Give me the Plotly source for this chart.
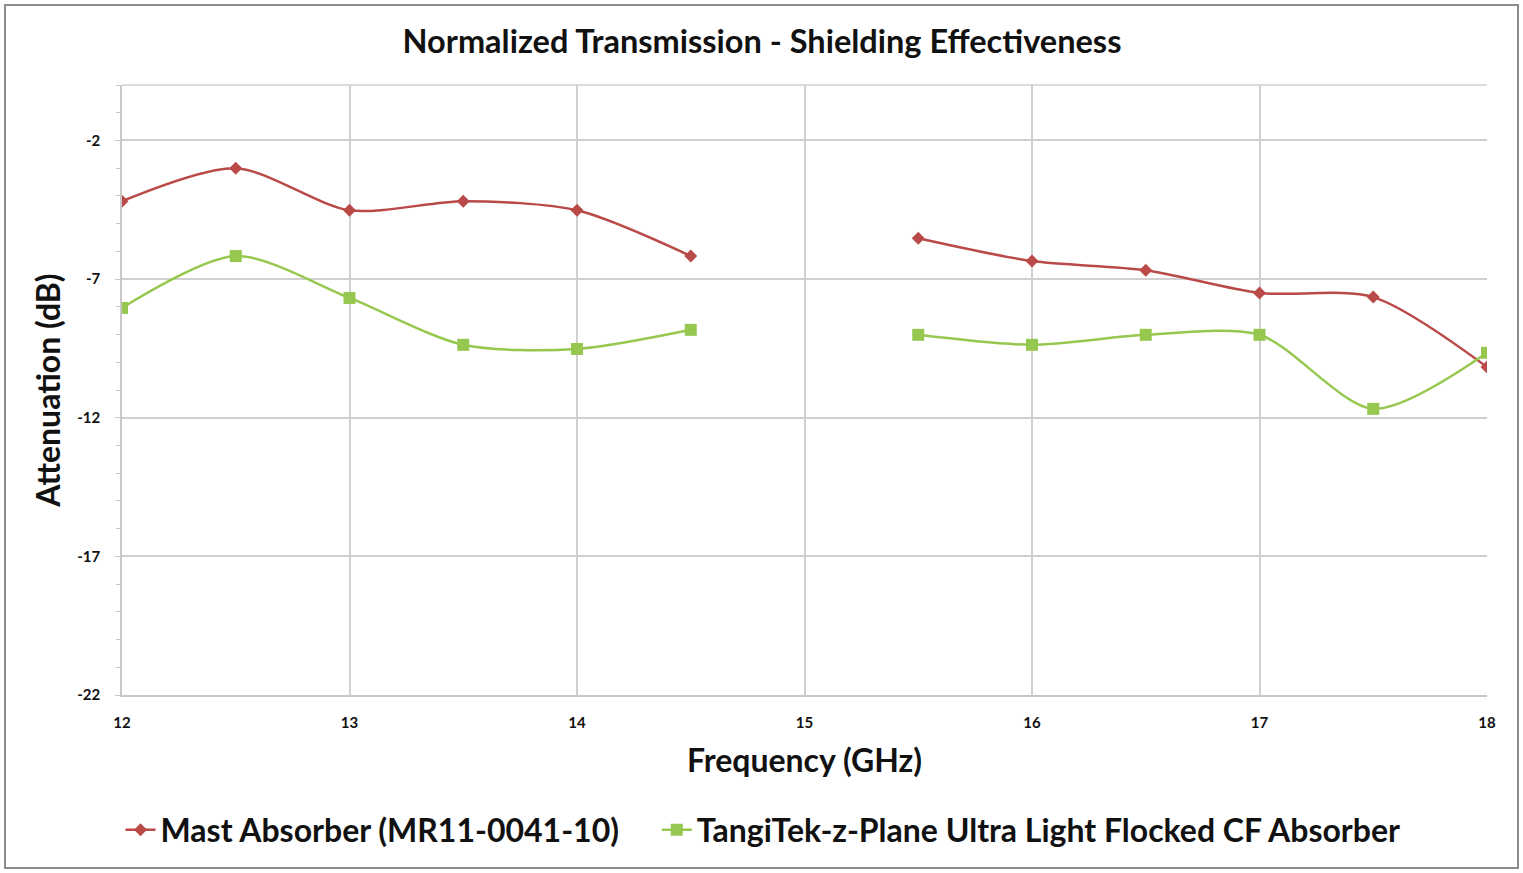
import plotly.graph_objects as go

freq = [12, 12.5, 13, 13.5, 14, 14.5, 15, 15.5, 16, 16.5, 17, 17.5, 18]
mast = [-4.19, -3.0, -4.52, -4.19, -4.52, -6.17, None, -5.53, -6.35, -6.68, -7.5, -7.65, -10.17]
tangi = [-8.04, -6.17, -7.68, -9.37, -9.52, -8.83, None, -9.01, -9.37, -9.01, -9.01, -11.68, -9.66]
x_ticks = [12, 13, 14, 15, 16, 17, 18]
y_ticks = [-22, -17, -12, -7, -2]

red = "#b94a48"
green = "#96c84f"
font_family = "Lato, 'Open Sans', sans-serif"
nb = "\u00a0"

fig = go.Figure()
fig.add_trace(go.Scatter(
    x=freq, y=mast, name="<b>Mast Absorber (MR11-0041-10)</b>" + nb * 4,
    mode="lines+markers", connectgaps=False,
    line=dict(color=red, width=2.5, shape="spline", smoothing=0.8),
    marker=dict(symbol="diamond", size=10, color=red),
))
fig.add_trace(go.Scatter(
    x=freq, y=tangi, name="<b>TangiTek-z-Plane Ultra Light Flocked CF Absorber</b>",
    mode="lines+markers", connectgaps=False,
    line=dict(color=green, width=2.5, shape="spline", smoothing=0.8),
    marker=dict(symbol="square", size=12, color=green),
))

fig.update_layout(
    width=1523, height=873,
    margin=dict(l=122, r=36, t=85, b=178),
    paper_bgcolor="white", plot_bgcolor="white",
    font=dict(family=font_family, color="#111111"),
    title=dict(text="<b>Normalized Transmission - Shielding Effectiveness</b>",
               x=762 / 1523, xref="container", xanchor="center", y=1 - 42/873, yanchor="middle",
               font=dict(size=32.5, family=font_family, color="#111111")),
    showlegend=True,
    legend=dict(orientation="h", x=(763 - 122) / 1365, xanchor="center", xref="paper",
                y=-(830 - 695) / 610, yanchor="middle",
                font=dict(size=32, family=font_family, color="#111111"),
                itemwidth=30, traceorder="normal", tracegroupgap=0),
)

fig.update_xaxes(
    range=[12, 18], tickmode="array", tickvals=x_ticks,
    ticktext=[f"<b>{v}</b>" for v in x_ticks],
    showgrid=True, gridcolor="#d0d0d0", gridwidth=1.5,
    zeroline=False, showline=True, linecolor="#c8c8c8", linewidth=1.5,
    ticks="", ticklabelstandoff=13,
    tickfont=dict(size=15, family=font_family, color="#111111"),
    title=dict(text="<b>Frequency (GHz)</b>", font=dict(size=32, family=font_family, color="#111111"),
               standoff=20),
)
fig.update_yaxes(
    range=[-22, 0], tickmode="array", tickvals=y_ticks,
    ticktext=[f"<b>{v}</b>" for v in y_ticks],
    showgrid=True, gridcolor="#d0d0d0", gridwidth=1.5,
    zeroline=False, showline=True, linecolor="#c8c8c8", linewidth=1.5,
    ticks="outside", ticklen=5, tickcolor="#c8c8c8", ticklabelstandoff=12,
    minor=dict(tickmode="linear", tick0=-22, dtick=1, ticks="outside", ticklen=4, tickcolor="#c8c8c8", showgrid=False),
    tickfont=dict(size=15, family=font_family, color="#111111"),
    title=dict(text="<b>Attenuation (dB)</b>", font=dict(size=32, family=font_family, color="#111111"),
               standoff=7),
)

# outer chart border
fig.add_shape(type="rect", xref="paper", yref="paper",
              x0=(5 - 122) / 1365, x1=(1518 - 122) / 1365,
              y0=(695 - 868) / 610, y1=(695 - 5) / 610,
              line=dict(color="#8c8c8c", width=2), fillcolor="rgba(0,0,0,0)", layer="below")
# top plot border
fig.add_shape(type="line", xref="paper", yref="paper", x0=0, x1=1, y0=1, y1=1,
              line=dict(color="#d0d0d0", width=1.5), layer="below")

fig.write_html("out.html")
